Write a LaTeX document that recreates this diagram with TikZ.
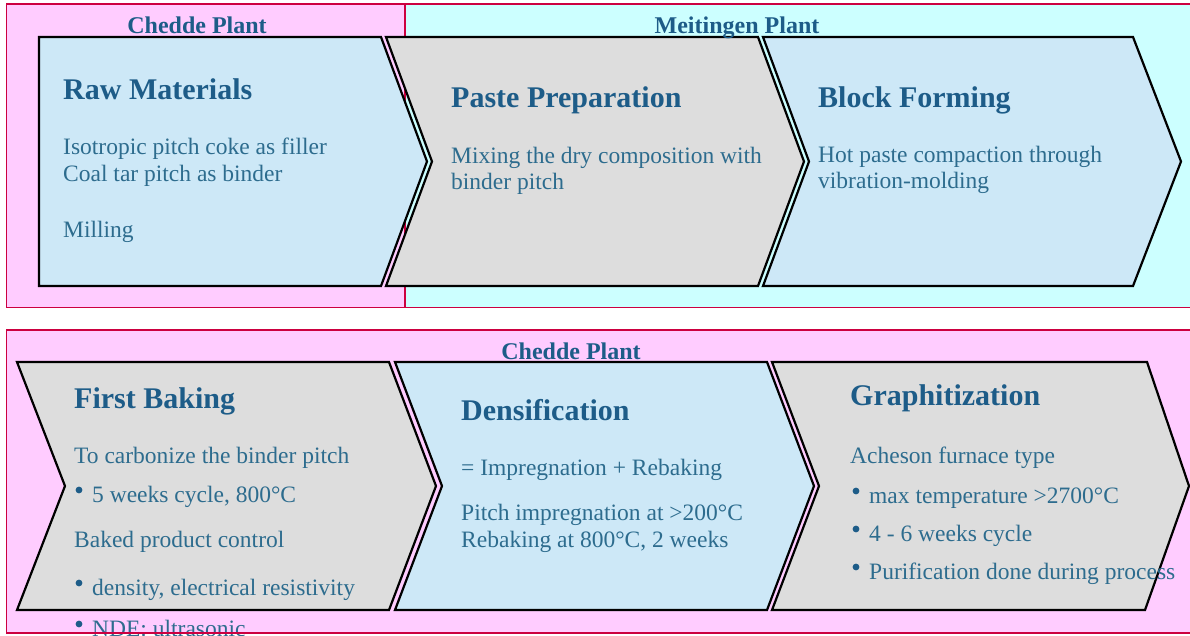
\documentclass[tikz,border=0pt]{standalone}
\usepackage{fontspec}
\setmainfont{Liberation Serif}
\definecolor{pinkbg}{HTML}{FFCCFF}
\definecolor{cyanbg}{HTML}{CCFFFF}
\definecolor{chevblue}{HTML}{CDE8F7}
\definecolor{chevgray}{HTML}{DDDDDD}
\definecolor{bordercol}{HTML}{CC0040}
\definecolor{titleblue}{HTML}{1D5C88}
\definecolor{bodyblue}{HTML}{2D6C8E}
\begin{document}
\begin{tikzpicture}[x=1pt,y=-1pt,
  chev/.style={draw=black, line width=2.2pt, line join=miter},
  bluechev/.style={chev, fill=chevblue},
  graychev/.style={chev, fill=chevgray},
  ttl/.style={anchor=base west, inner sep=0pt, text=titleblue, font=\fontsize{30}{30}\selectfont\bfseries},
  bodytxt/.style={anchor=base west, inner sep=0pt, text=bodyblue, font=\fontsize{23.5}{27}\selectfont},
  plant/.style={anchor=base, inner sep=0pt, text=titleblue, font=\fontsize{24}{24}\selectfont\bfseries},
  bul/.style={fill=titleblue},
  panelline/.style={draw=bordercol, line width=1.8pt}]
\useasboundingbox (0,0) rectangle (1190,635);
% panel backgrounds
\fill[pinkbg] (6.5,4) rectangle (405,307.5);
\fill[cyanbg] (405,4) rectangle (1190,307.5);
\fill[pinkbg] (6.5,330) rectangle (1190,633);
\path[panelline] (405,4) -- (405,307.5);
% top chevrons
\path[bluechev] (39,37) -- (381,37) -- (427,161.5) -- (381,286) -- (39,286) -- cycle;
\path[graychev] (386,37) -- (758,37) -- (804,161.5) -- (758,286) -- (386,286) -- (432,161.5) -- cycle;
\path[bluechev] (763,37) -- (1133,37) -- (1181,161.5) -- (1133,286) -- (763,286) -- (809,161.5) -- cycle;
% bottom chevrons
\path[graychev] (17,362) -- (389,362) -- (436,486) -- (389,610) -- (17,610) -- (65,486) -- cycle;
\path[bluechev] (395,362) -- (767,362) -- (814,486) -- (767,610) -- (395,610) -- (442,486) -- cycle;
\path[graychev] (772,362) -- (1147,362) -- (1189,486) -- (1145,610) -- (772,610) -- (819,486) -- cycle;
% plant labels
\node[plant] (lab1) at (197,33) {Chedde Plant};
\node[plant] (lab2) at (737,33) {Meitingen Plant};
\node[plant] (lab3) at (571,359) {Chedde Plant};
% Raw materials
\node[ttl] (t1) at (63,99) {Raw Materials};
\node[bodytxt] (b1a) at (63,154) {Isotropic pitch coke as filler};
\node[bodytxt] (b1b) at (63,181) {Coal tar pitch as binder};
\node[bodytxt] (b1c) at (63,237) {Milling};
% Paste preparation
\node[ttl] (t2) at (451,107) {Paste Preparation};
\node[bodytxt] (b2a) at (451,163) {Mixing the dry composition with};
\node[bodytxt] (b2b) at (451,189) {binder pitch};
% Block forming
\node[ttl] (t3) at (818,107) {Block Forming};
\node[bodytxt] (b3a) at (818,162) {Hot paste compaction through};
\node[bodytxt] (b3b) at (818,188) {vibration-molding};
% First baking
\node[ttl] (t4) at (74,408) {First Baking};
\node[bodytxt] (b4a) at (74,463) {To carbonize the binder pitch};
\node[bodytxt] (b4b) at (92,502) {5 weeks cycle, 800°C};
\node[bodytxt] (b4c) at (74,547) {Baked product control};
\node[bodytxt] (b4d) at (92,595) {density, electrical resistivity};
\node[bodytxt] (b4e) at (92,636) {NDE: ultrasonic};
\fill[bul] (79,490) circle (3.4);
\fill[bul] (79,583) circle (3.4);
\fill[bul] (79,624) circle (3.4);
% Densification
\node[ttl] (t5) at (461,420) {Densification};
\node[bodytxt] (b5a) at (461,475) {= Impregnation + Rebaking};
\node[bodytxt] (b5b) at (461,520) {Pitch impregnation at >200°C};
\node[bodytxt] (b5c) at (461,547) {Rebaking at 800°C, 2 weeks};
% Graphitization
\node[ttl] (t6) at (850,405) {Graphitization};
\node[bodytxt] (b6a) at (850,463) {Acheson furnace type};
\node[bodytxt] (b6b) at (869,503) {max temperature >2700°C};
\node[bodytxt] (b6c) at (869,541) {4 - 6 weeks cycle};
\node[bodytxt] (b6d) at (869,579) {Purification done during process};
\fill[bul] (856,491) circle (3.4);
\fill[bul] (856,529) circle (3.4);
\fill[bul] (856,567) circle (3.4);
% panel borders
\path[panelline] (1190,4) -- (6.5,4) -- (6.5,307.5) -- (1190,307.5);
\path[panelline] (1190,330) -- (6.5,330) -- (6.5,633) -- (1190,633);
\end{tikzpicture}
\end{document}
